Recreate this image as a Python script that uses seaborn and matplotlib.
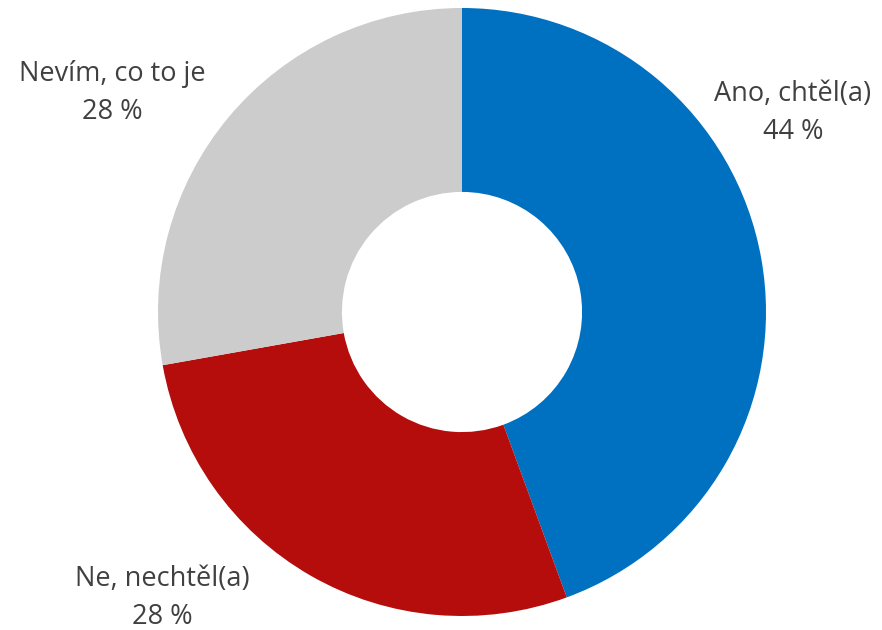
import matplotlib
matplotlib.use("Agg")
import matplotlib.pyplot as plt
import seaborn as sns

categories = ["Ano, chtěl(a)", "Ne, nechtěl(a)", "Nevím, co to je"]
values = [44.4, 27.8, 27.8]
colors = ["#0070C0", "#B50C0C", "#CCCCCC"]

sns.set_theme(style="white")
plt.rcParams['font.family'] = ['Open Sans', 'DejaVu Sans']

W, H = 882, 630
cx, cy, R = 462, 312, 304

fig = plt.figure(figsize=(W / 100, H / 100), dpi=100)
ax = fig.add_axes([0, 0, 1, 1])
wedges, _ = ax.pie(values, colors=colors, startangle=90, counterclock=False,
                   radius=1.0, wedgeprops=dict(width=0.605, linewidth=0))
ax.set_xlim(-cx / R, (W - cx) / R)
ax.set_ylim(-(H - cy) / R, cy / R)
ax.set_aspect("equal")
ax.axis("off")

# label positions (pixel layout of the reference)
label_pos = [(793, 113), (162, 598), (112, 93)]
for cat, val, (px, py) in zip(categories, values, label_pos):
    ax.text((px - cx) / R, (cy - py) / R, f"{cat}\n{round(val)} %", ha="center", va="center",
            fontsize=19.5, color="#404040", linespacing=1.45)

fig.savefig("out.png", dpi=100)
